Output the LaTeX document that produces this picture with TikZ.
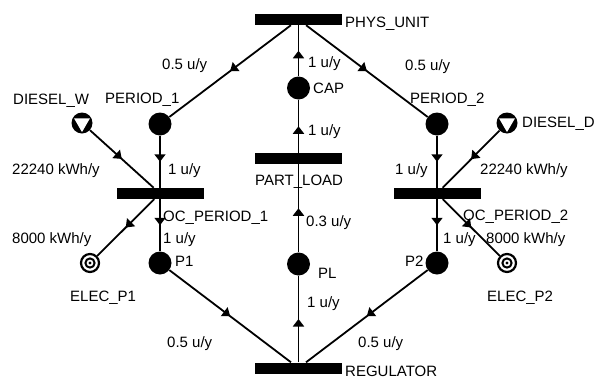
\documentclass[tikz,border=0pt]{standalone}
\usepackage{fontspec}
\setmainfont{Liberation Sans}
\usetikzlibrary{arrows.meta,decorations.markings}
\begin{document}
\begin{tikzpicture}[x=1pt,y=-1pt,
  place/.style={circle,fill=black,minimum size=23pt,inner sep=0pt},
  trans/.style={rectangle,fill=black,minimum width=87pt,minimum height=11pt,inner sep=0pt},
  source/.style={circle,fill=black,minimum size=21pt,inner sep=0pt,
    path picture={\fill[white]
      ([shift={(-7.9,-4.6)}]path picture bounding box.center) --
      ([shift={(7.9,-4.6)}]path picture bounding box.center) --
      ([shift={(0,9.1)}]path picture bounding box.center) -- cycle;}},
  sink/.style={circle,draw=black,line width=2.2pt,minimum size=18pt,inner sep=0pt,
    path picture={\draw[line width=2pt] (path picture bounding box.center) circle[radius=4.6pt];
      \fill (path picture bounding box.center) circle[radius=1.7pt];}},
  lbl/.style={anchor=base west,inner sep=0pt,font=\fontsize{15}{18}\selectfont},
  flow/.style={line width=1.8pt,postaction={decorate},
    decoration={markings,mark=at position 0.5 with {\arrow{Triangle[width=11pt,length=7.5pt]}}}}]
\useasboundingbox (0,0) rectangle (595,378);

% transitions
\node[trans] (phys) at (298.5,19.5) {};
\node[trans] (partload) at (298.5,158.5) {};
\node[trans] (reg) at (298.5,368) {};
\node[trans] (oc1) at (160,193.5) {};
\node[trans] (oc2) at (437,193.5) {};

% places
\node[place] (cap) at (298.5,88) {};
\node[place] (pl) at (298.5,264) {};
\node[place] (period1) at (160,124) {};
\node[place] (p1) at (160,263) {};
\node[place] (period2) at (437,124) {};
\node[place] (p2) at (437,263) {};

% fuel sources and electricity sinks
\node[source] (dw) at (82,123) {};
\node[source] (dd) at (507,123) {};
\node[sink] (e1) at (90,263) {};
\node[sink] (e2) at (507,263) {};

% arcs
\draw[flow] (cap) -- (phys);
\draw[flow] (partload) -- (cap);
\draw[flow] (pl) -- (partload);
\draw[flow] (reg) -- (pl);
\draw[flow] (phys) -- (period1);
\draw[flow] (phys) -- (period2);
\draw[flow] (period1) -- (oc1);
\draw[flow] (oc1) -- (p1);
\draw[flow] (p1) -- (reg);
\draw[flow] (dw) -- (oc1);
\draw[flow] (oc1) -- (e1);
\draw[flow] (period2) -- (oc2);
\draw[flow] (oc2) -- (p2);
\draw[flow] (p2) -- (reg);
\draw[flow] (dd) -- (oc2);
\draw[flow] (oc2) -- (e2);

% names
\node[lbl] (tPhys) at (345,27) {PHYS\_UNIT};
\node[lbl] (tCap) at (313,93) {CAP};
\node[lbl] (tPartLoad) at (255,185) {PART\_LOAD};
\node[lbl] (tReg) at (345,376) {REGULATOR};
\node[lbl] (tPl) at (318,278) {PL};
\node[lbl] (tPeriod1) at (105,103) {PERIOD\_1};
\node[lbl] (tPeriod2) at (410,103) {PERIOD\_2};
\node[lbl] (tDw) at (13,104) {DIESEL\_W};
\node[lbl] (tDd) at (522,127) {DIESEL\_D};
\node[lbl] (tOc1) at (163,221) {OC\_PERIOD\_1};
\node[lbl] (tOc2) at (463,220) {OC\_PERIOD\_2};
\node[lbl] (tP1) at (175,266) {P1};
\node[lbl] (tP2) at (405,266) {P2};
\node[lbl] (tE1) at (70,301) {ELEC\_P1};
\node[lbl] (tE2) at (487,301) {ELEC\_P2};

% rates
\node[lbl] (rCap) at (308,67) {1 u/y};
\node[lbl] (rPartLoad) at (308,135) {1 u/y};
\node[lbl] (rPl) at (306,226) {0.3 u/y};
\node[lbl] (rReg) at (307,307) {1 u/y};
\node[lbl] (rPhysL) at (162,69) {0.5 u/y};
\node[lbl] (rPhysR) at (405,70) {0.5 u/y};
\node[lbl] (rPer1) at (168,174) {1 u/y};
\node[lbl] (rPer2) at (395,174) {1 u/y};
\node[lbl] (rDw) at (12,174) {22240 kWh/y};
\node[lbl] (rDd) at (480,174) {22240 kWh/y};
\node[lbl] (rE1) at (12,243) {8000 kWh/y};
\node[lbl] (rE2) at (486,243) {8000 kWh/y};
\node[lbl] (rP1) at (163,243) {1 u/y};
\node[lbl] (rP2) at (443,243) {1 u/y};
\node[lbl] (rRegL) at (167,347) {0.5 u/y};
\node[lbl] (rRegR) at (358,347) {0.5 u/y};
\end{tikzpicture}
\end{document}
